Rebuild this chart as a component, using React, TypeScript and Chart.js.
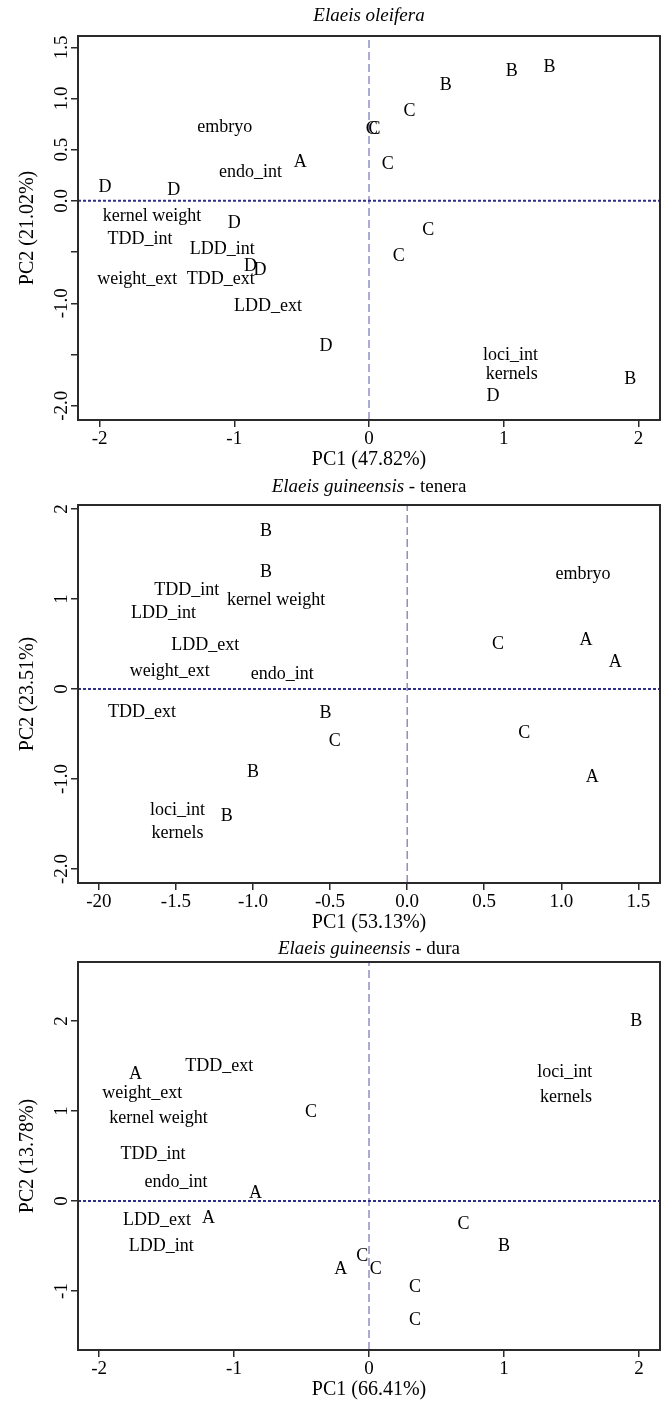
import React, { useEffect, useRef } from 'react';
import { Chart, registerables } from 'chart.js';

Chart.register(...registerables);

const FONT = '"Liberation Serif", "Times New Roman", serif';

// ---------- Panel 1: Elaeis oleifera ----------
const p1SampleLabels = ['B', 'B', 'B', 'C', 'C', 'C', 'C', 'A', 'D', 'D', 'D', 'D', 'D', 'D', 'C', 'C', 'B', 'D'];
const p1SampleX = [1.34, 1.06, 0.57, 0.3, 0.02, 0.04, 0.14, -0.51, -1.96, -1.45, -1.0, -0.88, -0.81, -0.32, 0.44, 0.22, 1.94, 0.92];
const p1SampleY = [1.32, 1.28, 1.14, 0.89, 0.71, 0.71, 0.37, 0.39, 0.14, 0.12, -0.21, -0.63, -0.67, -1.41, -0.28, -0.53, -1.73, -1.9];
const p1VarLabels = ['embryo', 'endo_int', 'kernel weight', 'TDD_int', 'LDD_int', 'weight_ext', 'TDD_ext', 'LDD_ext', 'loci_int', 'kernels'];
const p1VarX = [-1.07, -0.88, -1.61, -1.7, -1.09, -1.72, -1.1, -0.75, 1.05, 1.06];
const p1VarY = [0.73, 0.29, -0.14, -0.365, -0.46, -0.75, -0.75, -1.02, -1.5, -1.68];
const p1XTicks = [-2, -1, 0, 1, 2];
const p1XTickLabels = ['-2', '-1', '0', '1', '2'];
const p1YTicks = [-2, -1.5, -1, -0.5, 0, 0.5, 1, 1.5];
const p1YTickLabels = ['-2.0', '', '-1.0', '', '0.0', '0.5', '1.0', '1.5'];
const p1XLimits = [-2.16, 2.16];
const p1YLimits = [-2.14, 1.61];

// ---------- Panel 2: Elaeis guineensis - tenera ----------
const p2SampleLabels = ['B', 'B', 'C', 'A', 'A', 'B', 'C', 'C', 'B', 'A', 'B'];
const p2SampleX = [-0.915, -0.915, 0.59, 1.16, 1.35, -0.53, -0.47, 0.76, -1.0, 1.2, -1.17];
const p2SampleY = [1.77, 1.31, 0.51, 0.56, 0.31, -0.26, -0.57, -0.48, -0.91, -0.97, -1.4];
const p2VarLabels = ['embryo', 'TDD_int', 'kernel weight', 'LDD_int', 'LDD_ext', 'weight_ext', 'endo_int', 'TDD_ext', 'loci_int', 'kernels'];
const p2VarX = [1.14, -1.43, -0.85, -1.58, -1.31, -1.54, -0.81, -1.72, -1.49, -1.49];
const p2VarY = [1.29, 1.11, 1.0, 0.85, 0.5, 0.21, 0.18, -0.24, -1.33, -1.59];
const p2XTicks = [-2, -1.5, -1, -0.5, 0, 0.5, 1, 1.5];
const p2XTickLabels = ['-20', '-1.5', '-1.0', '-0.5', '0.0', '0.5', '1.0', '1.5'];
const p2YTicks = [-2, -1, 0, 1, 2];
const p2YTickLabels = ['-2.0', '-1.0', '0', '1', '2'];
const p2XLimits = [-2.135, 1.64];
const p2YLimits = [-2.156, 2.044];

// ---------- Panel 3: Elaeis guineensis - dura ----------
const p3SampleLabels = ['B', 'A', 'C', 'A', 'A', 'C', 'B', 'C', 'A', 'C', 'C', 'C'];
const p3SampleX = [1.98, -1.73, -0.43, -0.84, -1.19, 0.7, 1.0, -0.05, -0.21, 0.05, 0.34, 0.34];
const p3SampleY = [2.01, 1.42, 1.0, 0.1, -0.18, -0.24, -0.49, -0.6, -0.75, -0.74, -0.95, -1.31];
const p3VarLabels = ['TDD_ext', 'loci_int', 'weight_ext', 'kernels', 'kernel weight', 'TDD_int', 'endo_int', 'LDD_ext', 'LDD_int'];
const p3VarX = [-1.11, 1.45, -1.68, 1.46, -1.56, -1.6, -1.43, -1.57, -1.54];
const p3VarY = [1.51, 1.44, 1.21, 1.17, 0.93, 0.53, 0.22, -0.2, -0.49];
const p3XTicks = [-2, -1, 0, 1, 2];
const p3XTickLabels = ['-2', '-1', '0', '1', '2'];
const p3YTicks = [-1, 0, 1, 2];
const p3YTickLabels = ['-1', '0', '1', '2'];
const p3XLimits = [-2.156, 2.156];
const p3YLimits = [-1.656, 2.656];

type PanelSpec = {
  top: number;
  height: number;
  areaTop: number;
  areaBottom: number;
  titleGap: number;
  titleItalic: string;
  titleRest: string;
  xTitle: string;
  yTitle: string;
  sampleLabels: string[];
  sampleX: number[];
  sampleY: number[];
  varLabels: string[];
  varX: number[];
  varY: number[];
  xTicks: number[];
  xTickLabels: string[];
  yTicks: number[];
  yTickLabels: string[];
  xLim: number[];
  yLim: number[];
};

const panels: PanelSpec[] = [
  {
    top: 0, height: 470, areaTop: 36, areaBottom: 420, titleGap: 15,
    titleItalic: 'Elaeis oleifera', titleRest: '',
    xTitle: 'PC1 (47.82%)', yTitle: 'PC2 (21.02%)',
    sampleLabels: p1SampleLabels, sampleX: p1SampleX, sampleY: p1SampleY,
    varLabels: p1VarLabels, varX: p1VarX, varY: p1VarY,
    xTicks: p1XTicks, xTickLabels: p1XTickLabels, yTicks: p1YTicks, yTickLabels: p1YTickLabels,
    xLim: p1XLimits, yLim: p1YLimits,
  },
  {
    top: 470, height: 465, areaTop: 35, areaBottom: 413, titleGap: 13,
    titleItalic: 'Elaeis guineensis', titleRest: ' - tenera',
    xTitle: 'PC1 (53.13%)', yTitle: 'PC2 (23.51%)',
    sampleLabels: p2SampleLabels, sampleX: p2SampleX, sampleY: p2SampleY,
    varLabels: p2VarLabels, varX: p2VarX, varY: p2VarY,
    xTicks: p2XTicks, xTickLabels: p2XTickLabels, yTicks: p2YTicks, yTickLabels: p2YTickLabels,
    xLim: p2XLimits, yLim: p2YLimits,
  },
  {
    top: 935, height: 467, areaTop: 27, areaBottom: 415, titleGap: 8,
    titleItalic: 'Elaeis guineensis', titleRest: ' - dura',
    xTitle: 'PC1 (66.41%)', yTitle: 'PC2 (13.78%)',
    sampleLabels: p3SampleLabels, sampleX: p3SampleX, sampleY: p3SampleY,
    varLabels: p3VarLabels, varX: p3VarX, varY: p3VarY,
    xTicks: p3XTicks, xTickLabels: p3XTickLabels, yTicks: p3YTicks, yTickLabels: p3YTickLabels,
    xLim: p3XLimits, yLim: p3YLimits,
  },
];

const WIDTH = 665;
const AREA_LEFT = 78;
const AREA_RIGHT = 660;
const LABEL_SIZE = 18;
const TICK_SIZE = 19;
const AXIS_TITLE_SIZE = 20;
const TITLE_SIZE = 19;

function Panel({ spec }: { spec: PanelSpec }) {
  const ref = useRef<HTMLCanvasElement | null>(null);

  useEffect(() => {
    const canvas = ref.current;
    if (!canvas) return;

    const decor = {
      id: 'decor',
      afterDatasetsDraw(chart: any) {
        const ctx = chart.ctx;
        chart.data.datasets.forEach((ds: any, i: number) => {
          if (!ds.textLabels) return;
          const meta = chart.getDatasetMeta(i);
          ctx.save();
          ctx.font = `${ds.fontSize}px ${FONT}`;
          ctx.fillStyle = '#000';
          ctx.textAlign = 'center';
          ctx.textBaseline = 'alphabetic';
          meta.data.forEach((el: any, j: number) => {
            ctx.fillText(ds.textLabels[j], el.x, el.y + ds.fontSize * 0.33);
          });
          ctx.restore();
        });
      },
      afterDraw(chart: any) {
        const ctx = chart.ctx;
        const a = chart.chartArea;
        const xs = chart.scales.x;
        const ys = chart.scales.y;
        ctx.save();
        // box
        ctx.strokeStyle = '#2a2a2a';
        ctx.lineWidth = 2;
        ctx.strokeRect(a.left, a.top, a.right - a.left, a.bottom - a.top);
        ctx.fillStyle = '#000';
        // x tick labels
        ctx.font = `${TICK_SIZE}px ${FONT}`;
        ctx.textAlign = 'center';
        ctx.textBaseline = 'alphabetic';
        spec.xTicks.forEach((v, i) => {
          const px = xs.getPixelForValue(v);
          ctx.fillText(spec.xTickLabels[i], px, a.bottom + 24);
        });
        // y tick labels (rotated)
        spec.yTicks.forEach((v, i) => {
          const lab = spec.yTickLabels[i];
          if (!lab) return;
          const py = ys.getPixelForValue(v);
          ctx.save();
          ctx.translate(a.left - 11, py);
          ctx.rotate(-Math.PI / 2);
          ctx.fillText(lab, 0, 0);
          ctx.restore();
        });
        // x axis title
        ctx.font = `${AXIS_TITLE_SIZE}px ${FONT}`;
        ctx.fillText(spec.xTitle, (a.left + a.right) / 2, a.bottom + 45);
        // y axis title
        ctx.save();
        ctx.translate(33, (a.top + a.bottom) / 2);
        ctx.rotate(-Math.PI / 2);
        ctx.fillText(spec.yTitle, 0, 0);
        ctx.restore();
        // main title
        const italicFont = `italic ${TITLE_SIZE}px ${FONT}`;
        const normalFont = `${TITLE_SIZE}px ${FONT}`;
        ctx.font = italicFont;
        const w1 = ctx.measureText(spec.titleItalic).width;
        ctx.font = normalFont;
        const w2 = spec.titleRest ? ctx.measureText(spec.titleRest).width : 0;
        const start = (a.left + a.right) / 2 - (w1 + w2) / 2;
        const ty = a.top - spec.titleGap;
        ctx.textAlign = 'left';
        ctx.font = italicFont;
        ctx.fillText(spec.titleItalic, start, ty);
        if (spec.titleRest) {
          ctx.font = normalFont;
          ctx.fillText(spec.titleRest, start + w1, ty);
        }
        ctx.restore();
      },
    };

    const [xMin, xMax] = spec.xLim;
    const [yMin, yMax] = spec.yLim;

    const chart = new Chart(canvas, {
      type: 'scatter',
      data: {
        datasets: [
          {
            type: 'line',
            data: [{ x: xMin, y: 0 }, { x: xMax, y: 0 }],
            borderColor: '#2f2f8c',
            borderWidth: 2,
            borderDash: [3, 2],
            pointRadius: 0,
            fill: false,
          } as any,
          {
            type: 'line',
            data: [{ x: 0, y: yMin }, { x: 0, y: yMax }],
            borderColor: '#5656a6',
            borderWidth: 1,
            borderDash: [8, 4],
            pointRadius: 0,
            fill: false,
          } as any,
          {
            data: spec.sampleX.map((x, i) => ({ x, y: spec.sampleY[i] })),
            pointRadius: 0,
            textLabels: spec.sampleLabels,
            fontSize: LABEL_SIZE,
          } as any,
          {
            data: spec.varX.map((x, i) => ({ x, y: spec.varY[i] })),
            pointRadius: 0,
            textLabels: spec.varLabels,
            fontSize: LABEL_SIZE,
          } as any,
        ],
      },
      options: {
        animation: false,
        responsive: false,
        maintainAspectRatio: false,
        events: [],
        layout: {
          padding: { top: spec.areaTop, right: WIDTH - AREA_RIGHT, bottom: 0, left: 0 },
        },
        plugins: {
          legend: { display: false },
          tooltip: { enabled: false },
        },
        scales: {
          x: {
            type: 'linear',
            min: xMin,
            max: xMax,
            afterBuildTicks: (s: any) => {
              s.ticks = spec.xTicks.map((v) => ({ value: v }));
            },
            afterFit: (s: any) => {
              s.height = spec.height - spec.areaBottom;
            },
            ticks: { display: false },
            grid: {
              drawOnChartArea: false,
              drawTicks: true,
              tickLength: 7,
              tickColor: '#2a2a2a',
              color: '#2a2a2a',
              lineWidth: 1.5,
            },
            border: { display: false },
          },
          y: {
            type: 'linear',
            min: yMin,
            max: yMax,
            afterBuildTicks: (s: any) => {
              s.ticks = spec.yTicks.map((v) => ({ value: v }));
            },
            afterFit: (s: any) => {
              s.width = AREA_LEFT;
            },
            ticks: { display: false },
            grid: {
              drawOnChartArea: false,
              drawTicks: true,
              tickLength: 7,
              tickColor: '#2a2a2a',
              color: '#2a2a2a',
              lineWidth: 1.5,
            },
            border: { display: false },
          },
        },
      } as any,
      plugins: [decor as any],
    });

    return () => chart.destroy();
  }, [spec]);

  return (
    <div style={{ position: 'absolute', left: 0, top: spec.top, width: WIDTH, height: spec.height }}>
      <canvas ref={ref} width={WIDTH} height={spec.height} style={{ display: 'block' }} />
    </div>
  );
}

export default function App() {
  return (
    <div style={{ position: 'absolute', left: 0, top: 0, width: WIDTH, height: 1402, background: '#fff' }}>
      {panels.map((p, i) => (
        <Panel key={i} spec={p} />
      ))}
    </div>
  );
}
